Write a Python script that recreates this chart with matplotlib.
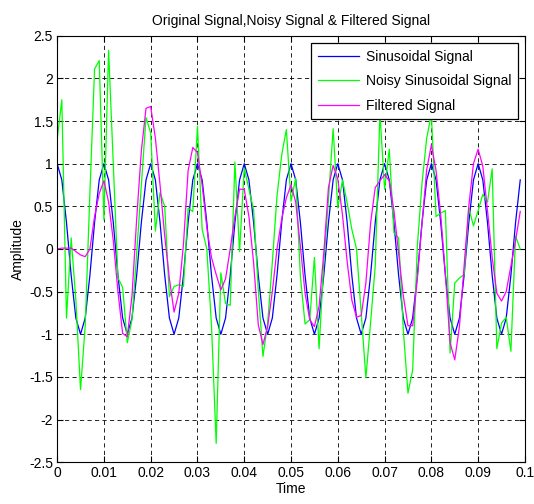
import numpy as np
import matplotlib
matplotlib.use('Agg')
import matplotlib.pyplot as plt

plt.rcParams['font.family'] = ['Liberation Sans', 'DejaVu Sans']

# sample times, 1 kHz sampling
time = np.arange(0, 0.1, 0.001)

# one period of the clean signal, repeated over the 10 cycles shown
sine_cycle = [1.0, 0.81, 0.31, -0.31, -0.81, -1.0, -0.81, -0.31, 0.31, 0.81]
sine = sine_cycle * 10

noisy = [1.28, 1.75, -0.81, 0.13, -0.6, -1.65, -0.9, 0.65, 2.11, 2.21,
         0.34, 2.33, 1.0, -0.34, -0.45, -1.1, -0.83, -0.05, 0.75, 1.54,
         1.36, 0.21, 0.66, 0.5, -0.56, -0.44, -0.42, -0.44, 0.48, 0.44,
         1.44, 0.23, 0.0, -0.9, -2.28, -0.28, -0.64, -0.66, 1.02, -0.03,
         0.95, 0.7, 0.46, -0.48, -1.26, -0.87, -0.16, 0.62, 1.1, 1.4,
         0.56, 0.83, -0.32, -0.88, -0.83, -0.1, -1.17, -0.16, 0.58, 1.41,
         0.48, 0.81, 0.54, 0.23, 0.0, -0.75, -1.51, -0.87, -0.2, 1.6,
         0.7, 1.17, 0.19, 0.13, -0.95, -1.69, -1.42, 0.03, 0.77, 1.3,
         1.58, 0.38, 0.42, 0.45, -1.22, -0.4, -0.34, -0.3, 0.48, 0.27,
         0.45, 0.64, 0.55, 0.94, -1.17, -0.87, -0.8, -1.2, 0.15, 0.0]

filtered = [0.0, 0.01, 0.01, 0.01, -0.03, -0.07, -0.09, 0.0, 0.38, 0.65,
            0.8, 0.55, 0.1, -0.5, -0.99, -1.03, -0.55, 0.35, 1.15, 1.65,
            1.67, 1.3, 0.75, 0.15, -0.35, -0.74, -0.52, 0.05, 0.92, 1.19,
            1.13, 0.75, 0.25, -0.1, -0.3, -0.48, -0.35, 0.0, 0.38, 0.7,
            0.7, 0.38, -0.16, -0.89, -1.12, -0.91, -0.5, 0.0, 0.35, 0.6,
            0.75, 0.55, 0.03, -0.52, -0.83, -0.91, -0.67, -0.05, 0.72, 0.98,
            0.82, 0.4, -0.15, -0.6, -0.8, -0.78, -0.4, 0.3, 0.72, 0.8,
            0.87, 0.8, 0.45, -0.05, -0.55, -0.9, -0.9, -0.35, 0.3, 0.93,
            1.22, 0.92, 0.4, -0.3, -1.1, -1.3, -0.91, -0.2, 0.5, 1.0,
            1.17, 0.97, 0.45, -0.1, -0.52, -0.61, -0.5, -0.2, 0.1, 0.44]

xticks = np.arange(0, 0.1001, 0.01)
xtick_labels = ['0', '0.01', '0.02', '0.03', '0.04', '0.05', '0.06', '0.07', '0.08', '0.09', '0.1']
yticks = np.arange(-2.5, 2.51, 0.5)
ytick_labels = ['-2.5', '-2', '-1.5', '-1', '-0.5', '0', '0.5', '1', '1.5', '2', '2.5']

fig = plt.figure(figsize=(5.34, 5.04), dpi=100)
ax = fig.add_axes([0.107, 0.083, 0.876, 0.846])

ax.plot(time, sine, color='#0000ff', lw=0.9, label='Sinusoidal Signal')
ax.plot(time, noisy, color='#00ff00', lw=0.9, label='Noisy Sinusoidal Signal')
ax.plot(time, filtered, color='#ff00ff', lw=0.9, label='Filtered Signal')

ax.set_xlim(0, 0.1)
ax.set_ylim(-2.5, 2.5)
ax.set_xticks(xticks)
ax.set_xticklabels(xtick_labels)
ax.set_yticks(yticks)
ax.set_yticklabels(ytick_labels)
ax.tick_params(direction='in', top=True, right=True, labelsize=10, length=4, pad=3)
ax.grid(True, color='black', linestyle=(0, (5, 4)), linewidth=0.6)
for s in ax.spines.values():
    s.set_linewidth(0.8)

ax.set_title('Original Signal,Noisy Signal & Filtered Signal', fontsize=10, pad=8)
ax.set_xlabel('Time', fontsize=10, labelpad=1)
ax.set_ylabel('Amplitude', fontsize=10, labelpad=3)

leg = ax.legend(loc='upper right', fontsize=10, fancybox=False, framealpha=1,
                edgecolor='black', borderaxespad=0.5, handlelength=2.9,
                handletextpad=0.5, labelspacing=0.75, borderpad=0.5)
leg.get_frame().set_linewidth(0.9)

fig.savefig('out.png', dpi=100)
